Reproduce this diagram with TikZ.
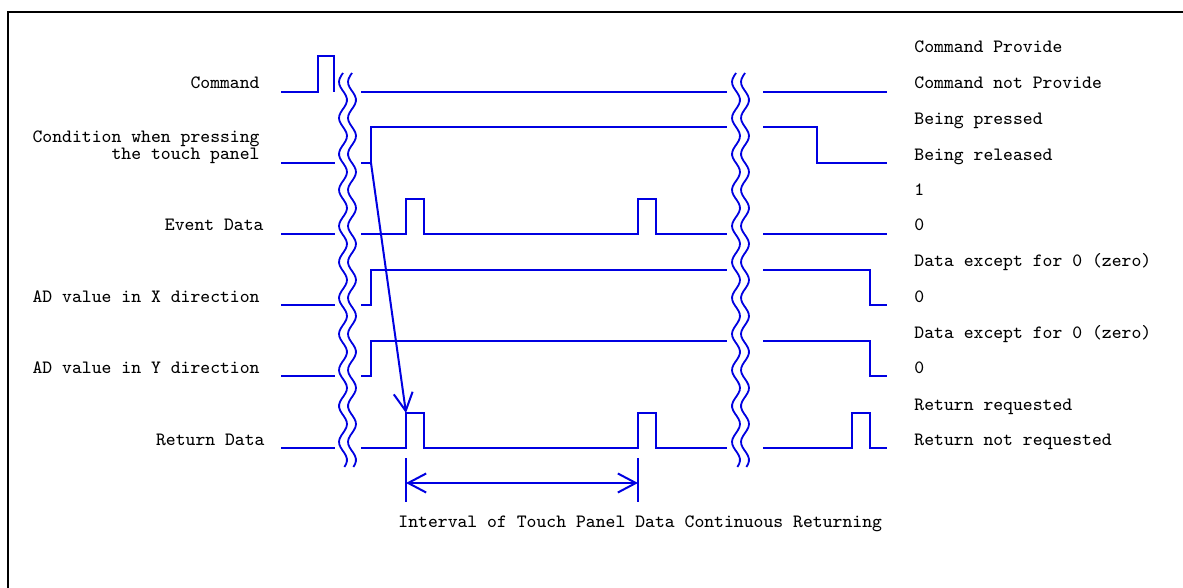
\documentclass[tikz,border=0pt]{standalone}
\usetikzlibrary{arrows.meta}
\definecolor{sigblue}{RGB}{0,0,225}

\begin{document}
\begin{tikzpicture}[x=0.5pt, y=-0.5pt,
  sig/.style={sigblue, line width=1pt},
  brk/.style={sigblue, line width=0.9pt},
  tip/.style={-{Straight Barb[length=9pt, width=9.5pt]}},
  lbl/.style={font=\fontsize{9.4}{7.5}\ttfamily, inner sep=0pt},
  lft/.style={lbl, anchor=base east},
  rgt/.style={lbl, anchor=base west}]
\useasboundingbox (0, 0) rectangle (1183, 588);
\draw[line width=1pt] (8, 588) -- (8, 12) -- (1183, 12);

\node[lft] (cmd) at (260, 88.5) {Command};
\node[lft, align=right] (cond) at (260, 160) {Condition when pressing\\the touch panel};
\node[lft] (evt) at (264, 231) {Event Data};
\node[lft] (adx) at (260, 302) {AD value in X direction};
\node[lft] (ady) at (260, 373) {AD value in Y direction};
\node[lft] (ret) at (265, 445) {Return Data};

\node[rgt] (cmdhi) at (914, 53) {Command Provide};
\node[rgt] (cmdlo) at (914, 89) {Command not Provide};
\node[rgt] (condhi) at (914, 124.5) {Being pressed};
\node[rgt] (condlo) at (914, 160.5) {Being released};
\node[rgt] (evthi) at (914, 196) {1};
\node[rgt] (evtlo) at (914, 231) {0};
\node[rgt] (adxhi) at (914, 267) {Data except for 0 (zero)};
\node[rgt] (adxlo) at (914, 302) {0};
\node[rgt] (adyhi) at (914, 338) {Data except for 0 (zero)};
\node[rgt] (adylo) at (914, 373) {0};
\node[rgt] (rethi) at (914, 410) {Return requested};
\node[rgt] (retlo) at (914, 445) {Return not requested};

\draw[sig] (281, 92) -- (318, 92) -- (318, 56) -- (334, 56) -- (334, 92);
\draw[sig] (361, 92) -- (727, 92);
\draw[sig] (763, 92) -- (887, 92);

\draw[sig] (281, 163) -- (335, 163);
\draw[sig] (361, 163) -- (371, 163) -- (371, 127.5) -- (727, 127.5);
\draw[sig] (763, 127.5) -- (817, 127.5) -- (817, 163) -- (887, 163);

\draw[sig] (281, 234) -- (335, 234);
\draw[sig] (361, 234) -- (406, 234) -- (406, 199) -- (424, 199) -- (424, 234)
  -- (638, 234) -- (638, 199) -- (656, 199) -- (656, 234) -- (727, 234);
\draw[sig] (763, 234) -- (887, 234);

\draw[sig] (281, 305) -- (335, 305);
\draw[sig] (361, 305) -- (371, 305) -- (371, 270) -- (727, 270);
\draw[sig] (763, 270) -- (870, 270) -- (870, 305) -- (887, 305);

\draw[sig] (281, 376) -- (335, 376);
\draw[sig] (361, 376) -- (371, 376) -- (371, 341) -- (727, 341);
\draw[sig] (763, 341) -- (870, 341) -- (870, 376) -- (887, 376);

\draw[sig] (281, 448) -- (335, 448);
\draw[sig] (361, 448) -- (406, 448) -- (406, 413) -- (424, 413) -- (424, 448)
  -- (638, 448) -- (638, 413) -- (656, 413) -- (656, 448) -- (727, 448);
\draw[sig] (763, 448) -- (852, 448) -- (852, 413) -- (870, 413) -- (870, 448) -- (887, 448);

\draw[brk] plot[domain=73:467, samples=140] ({343+4*sin((\x-91)*10)}, \x);
\draw[brk] plot[domain=73:467, samples=140] ({352+4*sin((\x-91)*10)}, \x);
\draw[brk] plot[domain=73:467, samples=140] ({736+4*sin((\x-91)*10)}, \x);
\draw[brk] plot[domain=73:467, samples=140] ({745+4*sin((\x-91)*10)}, \x);

\coordinate (press) at (371, 163);
\coordinate (reply) at (406, 413);
\draw[sig, tip] (press) -- (reply);

\coordinate (ta) at (406, 458);
\coordinate (tb) at (638, 458);
\draw[sig] (ta) -- ++(0, 44);
\draw[sig] (tb) -- ++(0, 44);
\draw[sig, {Straight Barb[length=9pt, width=9.5pt]}-{Straight Barb[length=9pt, width=9.5pt]}] (406, 483) -- (638, 483);
\node[rgt] (intv) at (398, 527) {Interval of Touch Panel Data Continuous Returning};
\end{tikzpicture}
\end{document}
